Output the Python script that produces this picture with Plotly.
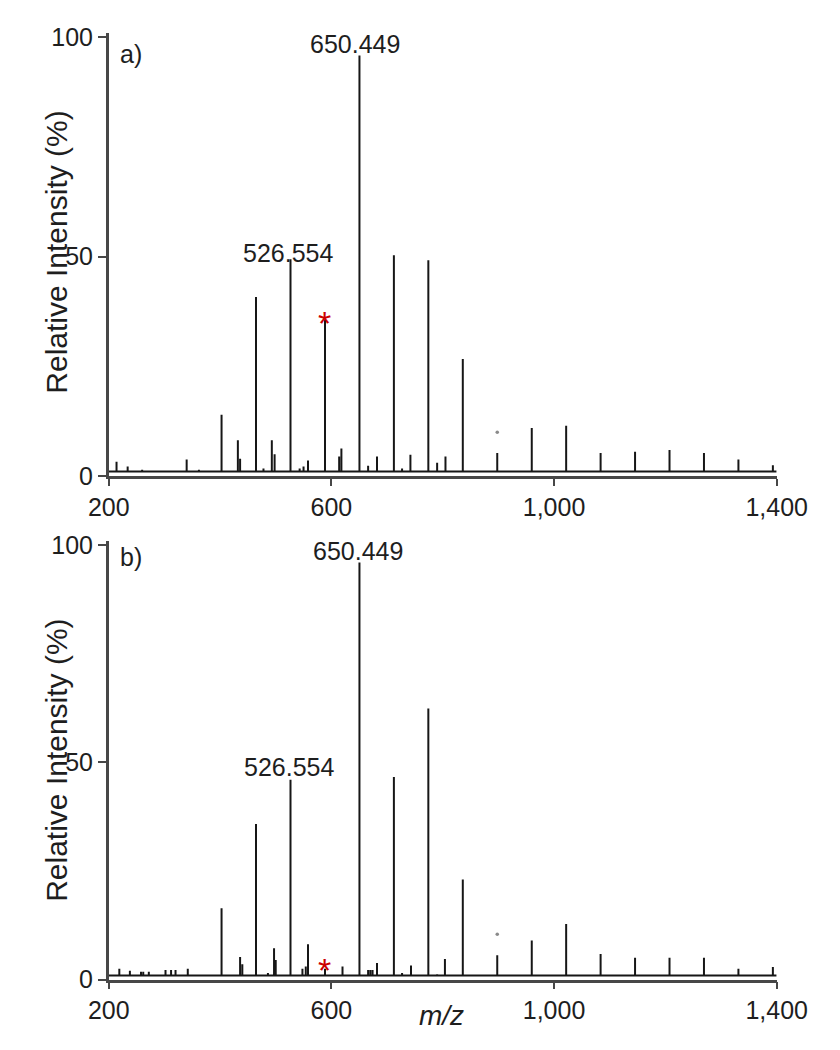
import plotly.graph_objects as go

# ---------------- data ----------------
# Spectrum a)
mz_a = [214, 234, 260, 307, 340, 362, 402.7, 432, 436, 464.6, 478, 493, 498,
        526.554, 543, 550, 558, 588.5, 602, 614, 618, 650.449, 666, 682,
        712.3, 727, 742, 774.2, 790, 805, 836.1, 868, 898, 930, 960, 991,
        1021.8, 1052, 1083.7, 1145.6, 1207.5, 1269.4, 1331.3, 1393.2]
int_a = [3.3, 2.2, 1.5, 1.3, 3.8, 1.5, 14.0, 8.2, 4.0, 40.8, 1.8, 8.2, 5.0,
         49.4, 1.8, 2.2, 3.6, 35.6, 1.2, 4.5, 6.3, 95.8, 2.4, 4.5,
         50.3, 1.8, 4.9, 49.2, 3.1, 4.5, 26.7, 1.2, 5.3, 1.0, 11.0, 1.0,
         11.5, 1.0, 5.3, 5.6, 6.0, 5.3, 3.8, 2.5]

# Spectrum b)
mz_b = [219, 238, 258, 262, 272, 302, 312, 320, 342, 402.7, 436, 440, 464.6,
        486, 497, 500, 526.554, 548, 554, 558, 588.5, 612, 620, 650.449,
        666, 670, 674, 682, 712.3, 727, 743, 774.2, 790, 804, 836.1, 868,
        898, 928, 960, 990, 1021.8, 1052, 1083.7, 1145.6, 1207.5, 1269.4,
        1331.3, 1393.2]
int_b = [2.5, 2.0, 1.8, 1.8, 1.8, 2.2, 2.2, 2.2, 2.5, 16.4, 5.2, 3.5, 35.8,
         1.5, 7.2, 4.5, 46.0, 2.5, 3.0, 8.1, 2.5, 1.0, 3.0, 96.0,
         2.2, 2.2, 2.2, 3.8, 46.6, 1.5, 3.2, 62.4, 1.2, 4.7, 23.0, 0.8,
         5.6, 0.8, 9.0, 0.8, 12.8, 0.8, 5.9, 5.0, 5.0, 5.0,
         2.5, 2.9]

baseline_a = 1.1
baseline_b = 0.9

# isolated grey dots (artifact points)
dot_a = (898, 10.0)
dot_b = (898, 10.4)

labels = ["650.449", "526.554"]
label_mz = [650.449, 526.554]
star_mz = 588.5

x_ticks = [200, 600, 1000, 1400]
x_ticktext = ["200", "600", "1,000", "1,400"]
y_ticks = [0, 50, 100]

FONT = "Liberation Sans, Arial, sans-serif"
AX = "#474747"
TXT = "#1e1e1e"

# per-panel label nudges (pixels): (xshift, yshift) for each label
label_shift = {
    "x": [(-4, -5), (-2, -10)],
    "x2": [(-1, -5), (-1, -3)],
}
star_shift = {"x": -3, "x2": -1}


def stick_path(mz, inten, base):
    xs, ys = [200], [base]
    for m, h in sorted(zip(mz, inten)):
        xs += [m, m, m]
        ys += [base, h, base]
    xs.append(1400)
    ys.append(base)
    return xs, ys


fig = go.Figure()

xa, ya = stick_path(mz_a, int_a, baseline_a)
xb, yb = stick_path(mz_b, int_b, baseline_b)

for xs, ys, xr, yr in [(xa, ya, "x", "y"), (xb, yb, "x2", "y2")]:
    fig.add_trace(go.Scatter(x=xs, y=ys, mode="lines", line=dict(color="#161616", width=2),
                             xaxis=xr, yaxis=yr, showlegend=False, hoverinfo="skip"))
for d, xr, yr in [(dot_a, "x", "y"), (dot_b, "x2", "y2")]:
    fig.add_trace(go.Scatter(x=[d[0]], y=[d[1]], mode="markers",
                             marker=dict(color="#8a8a8a", size=3.5), xaxis=xr, yaxis=yr,
                             showlegend=False, hoverinfo="skip"))

ann = []
for (xref, yref, mz, inten) in [("x", "y", mz_a, int_a), ("x2", "y2", mz_b, int_b)]:
    lookup = dict(zip(mz, inten))
    for i, (txt, m) in enumerate(zip(labels, label_mz)):
        xs_, ys_ = label_shift[xref][i]
        ann.append(dict(x=m, y=lookup[m], xref=xref, yref=yref, text=txt, showarrow=False,
                        xanchor="center", yanchor="bottom", xshift=xs_, yshift=ys_,
                        font=dict(family=FONT, size=25, color=TXT)))
    ann.append(dict(x=star_mz, y=lookup[star_mz], xref=xref, yref=yref, text="*", showarrow=False,
                    xanchor="center", yanchor="middle", yshift=star_shift[xref],
                    font=dict(family=FONT, size=34, color="#cc0000")))

ann.append(dict(x=95 / 840, y=1 - 37 / 1050, xref="paper", yref="paper", text="a)", showarrow=False,
                xanchor="left", yanchor="middle", font=dict(family=FONT, size=25, color=TXT)))
ann.append(dict(x=95 / 840, y=1 - 552 / 1050, xref="paper", yref="paper", text="b)", showarrow=False,
                xanchor="left", yanchor="middle", font=dict(family=FONT, size=25, color=TXT)))
for yc in [240, 760]:
    ann.append(dict(x=29 / 840, y=1 - yc / 1050, xref="paper", yref="paper",
                    text="Relative Intensity (%)", textangle=-90, showarrow=False,
                    xanchor="center", yanchor="middle",
                    font=dict(family=FONT, size=30, color=TXT)))
ann.append(dict(x=440 / 840, y=1 - 1021 / 1050, xref="paper", yref="paper", text="<i>m/z</i>",
                showarrow=False, xanchor="center", yanchor="middle",
                font=dict(family=FONT, size=28, color=TXT)))

xdom = [85 / 840, 797 / 840]
common_x = dict(range=[200, 1400], tickvals=x_ticks, ticktext=x_ticktext, showgrid=False,
                zeroline=False, showline=True, linecolor=AX, linewidth=2.5, ticks="outside",
                ticklen=7, tickwidth=2, tickcolor=AX,
                tickfont=dict(family=FONT, size=25, color=TXT))
common_y = dict(range=[0, 101], tickvals=y_ticks, showgrid=False, zeroline=False, showline=True,
                linecolor=AX, linewidth=2.5, ticks="outside", ticklen=8, tickwidth=2,
                tickcolor=AX, tickfont=dict(family=FONT, size=25, color=TXT))

fig.update_layout(
    width=840, height=1050,
    margin=dict(l=0, r=0, t=0, b=0),
    paper_bgcolor="white", plot_bgcolor="white",
    xaxis=dict(domain=xdom, anchor="y", **common_x),
    yaxis=dict(domain=[1 - 469 / 1050, 1 - 15 / 1050], anchor="x", **common_y),
    xaxis2=dict(domain=xdom, anchor="y2", **common_x),
    yaxis2=dict(domain=[1 - 984 / 1050, 1 - 535 / 1050], anchor="x2", **common_y),
    annotations=ann,
)

fig.write_html("out.html")
